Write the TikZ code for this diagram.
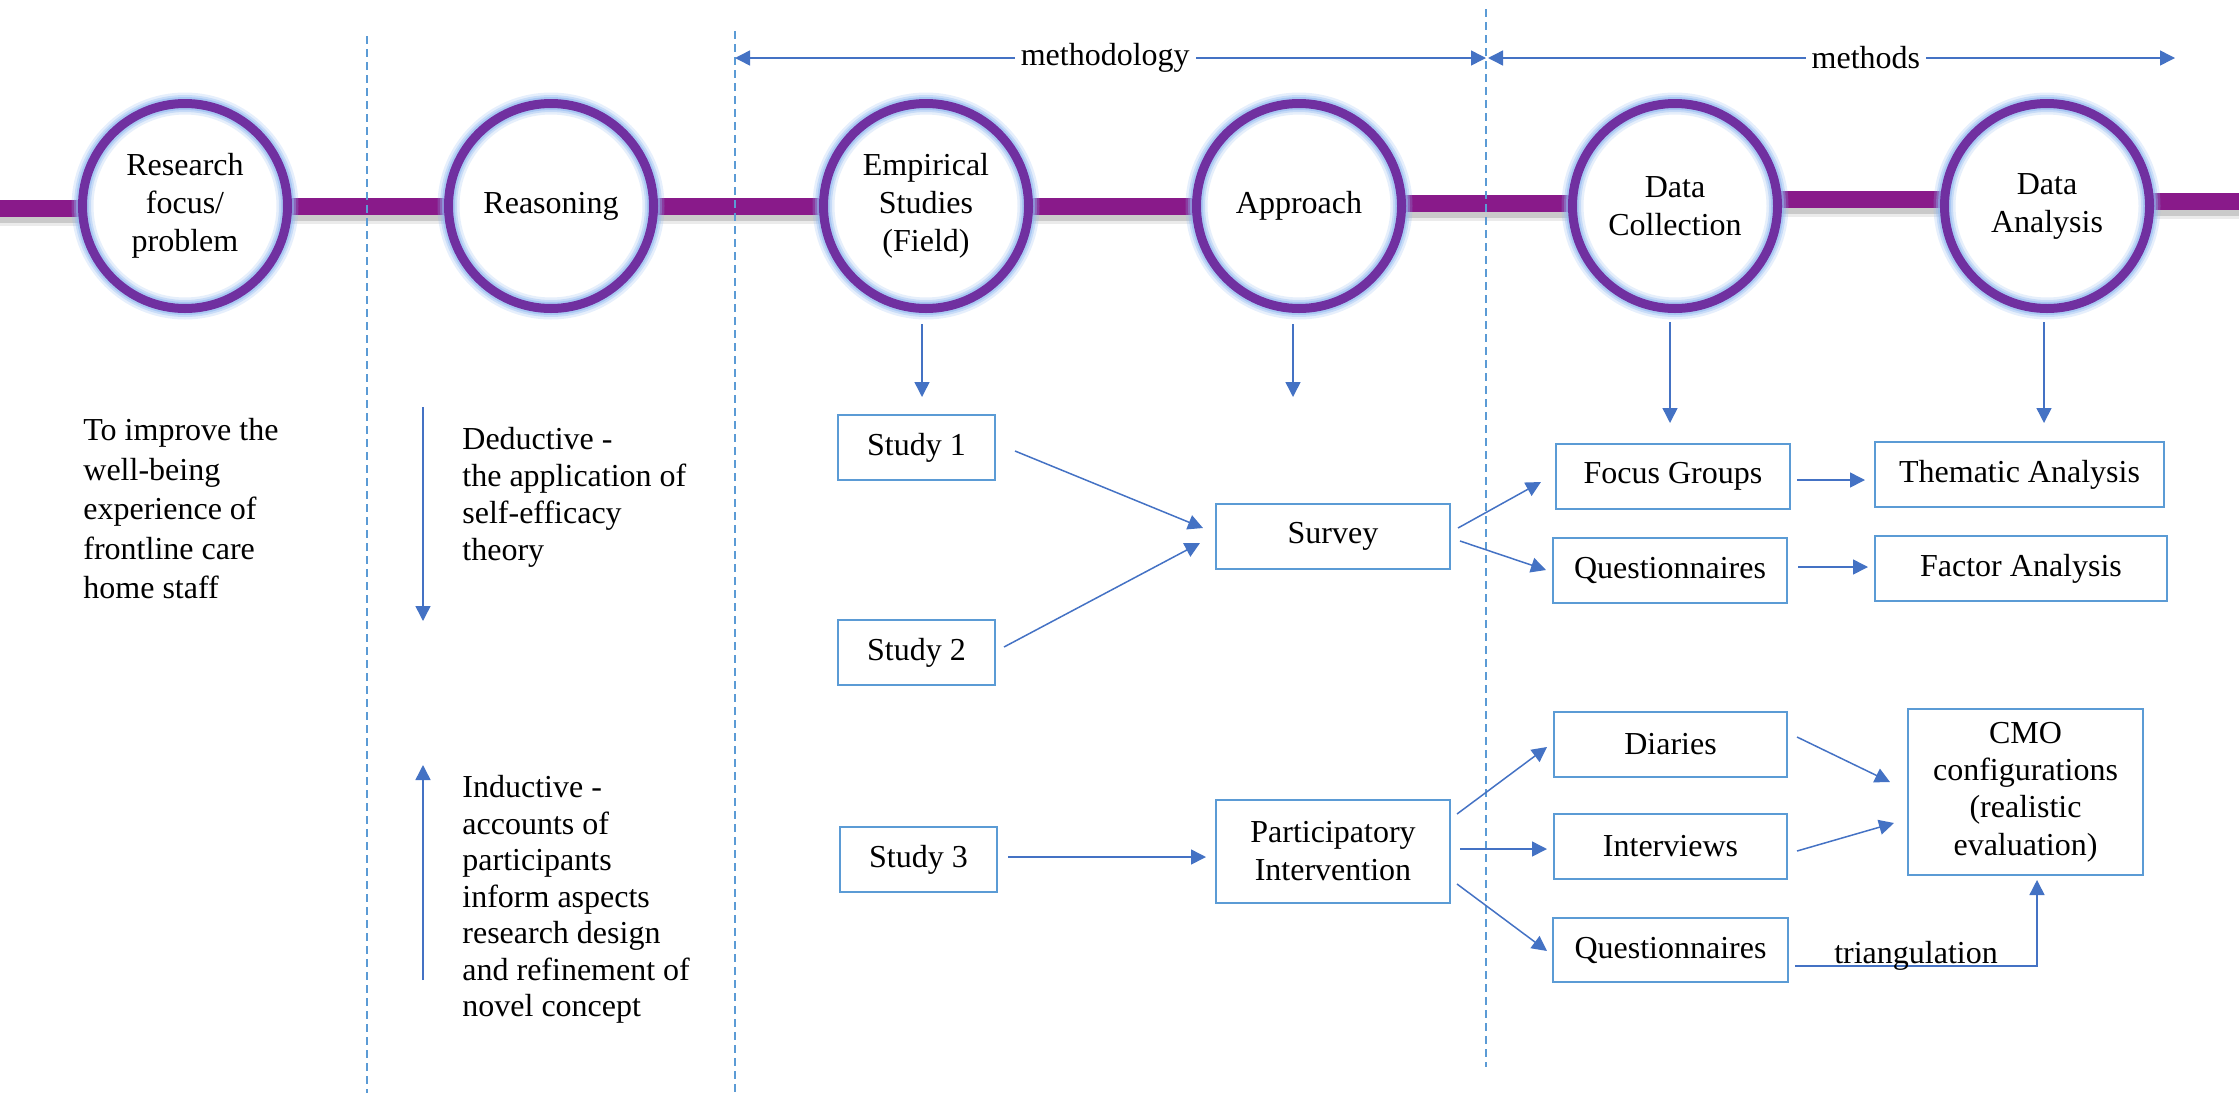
\documentclass[tikz,border=0pt]{standalone}
\usepackage{fontspec}
\setmainfont{Liberation Serif}
\usetikzlibrary{arrows.meta,calc,backgrounds}

\definecolor{arrowblue}{HTML}{4472C4}
\definecolor{boxblue}{HTML}{5B9BD5}
\definecolor{ringpurple}{HTML}{7030A0}
\definecolor{barpurple}{HTML}{891A8A}
\definecolor{glowblue}{HTML}{8FB8F0}

\begin{document}
\begin{tikzpicture}[x=0.5pt,y=-0.5pt,
  every node/.style={font=\fontsize{16}{19}\selectfont, inner sep=0pt},
  stage/.style={circle, minimum size=102.5pt, fill=white, align=center, outer sep=0pt},
  box/.style={draw=boxblue, line width=1pt, align=center, outer sep=0pt, minimum height=32.5pt},
  arr/.style={draw=arrowblue, line width=0.75pt, -{Triangle[length=7.5pt,width=7.5pt]}},
  dblarr/.style={draw=arrowblue, line width=0.75pt, {Triangle[length=7.5pt,width=7.5pt]}-{Triangle[length=7.5pt,width=7.5pt]}},
  divider/.style={draw=boxblue, line width=1pt, dash pattern=on 4pt off 2.5pt},
  bar/.style={draw=barpurple, line width=8.5pt},
  barshadow/.style={draw=black, line width=8.5pt},
  note/.style={anchor=north west, align=left},
  lbl/.style={fill=white, inner xsep=3pt, inner ysep=1pt}
]
\useasboundingbox (0,0) rectangle (2239,1093);

% ---- stages along the timeline ----
\node[stage] (rf)   at (185,206)  {Research\\focus/\\problem};
\node[stage] (rs)   at (551,206)  {Reasoning};
\node[stage] (emp)  at (926,206)  {Empirical\\Studies\\(Field)};
\node[stage] (appr) at (1299,206) {Approach};
\node[stage] (dc)   at (1675,206) {Data\\Collection};
\node[stage] (da)   at (2047,206) {Data\\Analysis};

\foreach \s in {rf,rs,emp,appr,dc,da}{
  \draw[glowblue, line width=11pt, opacity=0.22] (\s.center) circle[radius=51.25pt];
  \draw[glowblue, line width=8.5pt, opacity=0.35] (\s.center) circle[radius=51.25pt];
  \draw[glowblue, line width=6.5pt, opacity=0.55] (\s.center) circle[radius=51.25pt];
  \draw[ringpurple, line width=4.5pt] (\s.center) circle[radius=51.25pt];
}

% ---- timeline bar (behind the stages) ----
\coordinate (barL) at (0,208.5);
\coordinate (barR) at (2239,201.5);
\begin{scope}[on background layer]
  \foreach \sh/\op in {-4.5pt/0.08, -3pt/0.14}{
    \begin{scope}[transform canvas={yshift=\sh}]
      \draw[barshadow, opacity=\op] (barL) -- (barL -| rf.center);
      \draw[barshadow, opacity=\op] (rf.center) -- (rs.center) -- (emp.center) -- (appr.center);
      \draw[barshadow, opacity=\op] ($(appr.center)+(0,-2.5)$) -- ($(dc.center)+(0,-2.5)$);
      \draw[barshadow, opacity=\op] ($(dc.center)+(0,-7)$) -- ($(da.center)+(0,-7)$);
      \draw[barshadow, opacity=\op] ($(da.center)+(0,-4.5)$) -- (barR);
    \end{scope}
  }
  \draw[bar] (barL) -- (barL -| rf.center);
  \draw[bar] (rf.center) -- (rs.center) -- (emp.center) -- (appr.center);
  \draw[bar] ($(appr.center)+(0,-2.5)$) -- ($(dc.center)+(0,-2.5)$);
  \draw[bar] ($(dc.center)+(0,-7)$) -- ($(da.center)+(0,-7)$);
  \draw[bar] ($(da.center)+(0,-4.5)$) -- (barR);
\end{scope}

% ---- section dividers ----
\coordinate (v1t) at (367,36);   \coordinate (v1b) at (367,1093);
\coordinate (v2t) at (735,31);   \coordinate (v2b) at (735,1093);
\coordinate (v3t) at (1486,9);   \coordinate (v3b) at (1486,1067);
\draw[divider] (v1t) -- (v1b);
\draw[divider] (v2t) -- (v2b);
\draw[divider] (v3t) -- (v3b);

% ---- span markers ----
\coordinate (mA) at (735,58);  \coordinate (mB) at (1486,58);
\coordinate (nA) at (1488,58); \coordinate (nB) at (2175,58);
\draw[dblarr] (mA) -- node[lbl, pos=0.493] {methodology} (mB);
\draw[dblarr] (nA) -- node[lbl, pos=0.55] {methods} (nB);

% ---- free text columns ----
\node[note, font=\fontsize{16}{19.75}\selectfont] (goal) at (83,418)
  {To improve the\\well-being\\experience of\\frontline care\\home staff};
\node[note, font=\fontsize{16}{18.5}\selectfont] (ded) at (462,427)
  {Deductive -\\the application of\\self-efficacy\\theory};
\node[note, font=\fontsize{16}{18.25}\selectfont] (ind) at (462,775)
  {Inductive -\\accounts of\\participants\\inform aspects\\research design\\and refinement of\\novel concept};

\coordinate (dedA) at (423,407); \coordinate (dedB) at (423,621);
\coordinate (indA) at (423,980); \coordinate (indB) at (423,765);
\draw[arr] (dedA) -- (dedB);
\draw[arr] (indA) -- (indB);

% ---- boxes ----
\node[box, minimum width=78.5pt] (study1) at (916.5,447.5) {Study 1};
\node[box, minimum width=78.5pt] (study2) at (916.5,652.5) {Study 2};
\node[box, minimum width=78.5pt] (study3) at (918.5,859.5) {Study 3};
\node[box, minimum width=117pt] (survey) at (1333,536.5) {Survey};
\node[box, minimum width=117pt, minimum height=51.5pt] (partint) at (1333,851.5) {Participatory\\Intervention};
\node[box, minimum width=117pt] (focus) at (1673,476.5) {Focus Groups};
\node[box, minimum width=117pt] (quest1) at (1670,570.5) {Questionnaires};
\node[box, minimum width=144.5pt] (thematic) at (2019.5,474.5) {Thematic Analysis};
\node[box, minimum width=146pt] (factor) at (2021,568.5) {Factor Analysis};
\node[box, minimum width=116.5pt] (diaries) at (1670.5,744.5) {Diaries};
\node[box, minimum width=116.5pt] (interviews) at (1670.5,846.5) {Interviews};
\node[box, minimum width=117.5pt, minimum height=32pt] (quest2) at (1670.5,950) {Questionnaires};
\node[box, minimum width=117.5pt, minimum height=83pt, font=\fontsize{16}{18.7}\selectfont] (cmo) at (2025.5,792)
  {CMO\\configurations\\(realistic\\evaluation)};

% ---- stage to box arrows ----
\draw[arr] ($(emp.south)+(-4,15.5)$) -- ($(emp.south)+(-4,88.5)$);
\draw[arr] ($(appr.south)+(-6,15.5)$) -- ($(appr.south)+(-6,88.5)$);
\draw[arr] ($(dc.south)+(-5,13.5)$) -- ($(dc.south)+(-5,114.5)$);
\draw[arr] ($(da.south)+(-3,13.5)$) -- ($(da.south)+(-3,114.5)$);

% ---- flow arrows ----
\draw[arr] ($(study1.east)+(20,3.5)$) -- ($(survey.west)+(-13,-8.5)$);
\draw[arr] ($(study2.east)+(9,-5.5)$) -- ($(survey.west)+(-16,6.5)$);
\draw[arr] ($(survey.east)+(8,-8.5)$) -- ($(focus.west)+(-15,5.5)$);
\draw[arr] ($(survey.east)+(10,4.5)$) -- ($(quest1.west)+(-7,-0.5)$);
\draw[arr] ($(focus.east)+(7,3.5)$) -- ($(thematic.west)+(-10,5.5)$);
\draw[arr] ($(quest1.east)+(11,-3.5)$) -- ($(factor.west)+(-7,-1.5)$);
\draw[arr] ($(study3.east)+(11,-2.5)$) -- ($(partint.west)+(-10,5.5)$);
\draw[arr] ($(partint.east)+(7,-37.5)$) -- ($(diaries.west)+(-7,2.5)$);
\draw[arr] ($(partint.east)+(10,-2.5)$) -- ($(interviews.west)+(-7,2.5)$);
\draw[arr] ($(partint.east)+(7,32.5)$) -- ($(quest2.west)+(-6,1)$);
\draw[arr] ($(diaries.east)+(10,-7.5)$) -- ($(cmo.west)+(-18,-10)$);
\draw[arr] ($(interviews.east)+(10,4.5)$) -- ($(cmo.west)+(-14,31)$);
\draw[arr] ($(quest2.east)+(7,16)$) -| node[pos=0.25, anchor=base, yshift=1.5pt] {triangulation} ($(cmo.south)+(11.5,5)$);

\end{tikzpicture}
\end{document}
